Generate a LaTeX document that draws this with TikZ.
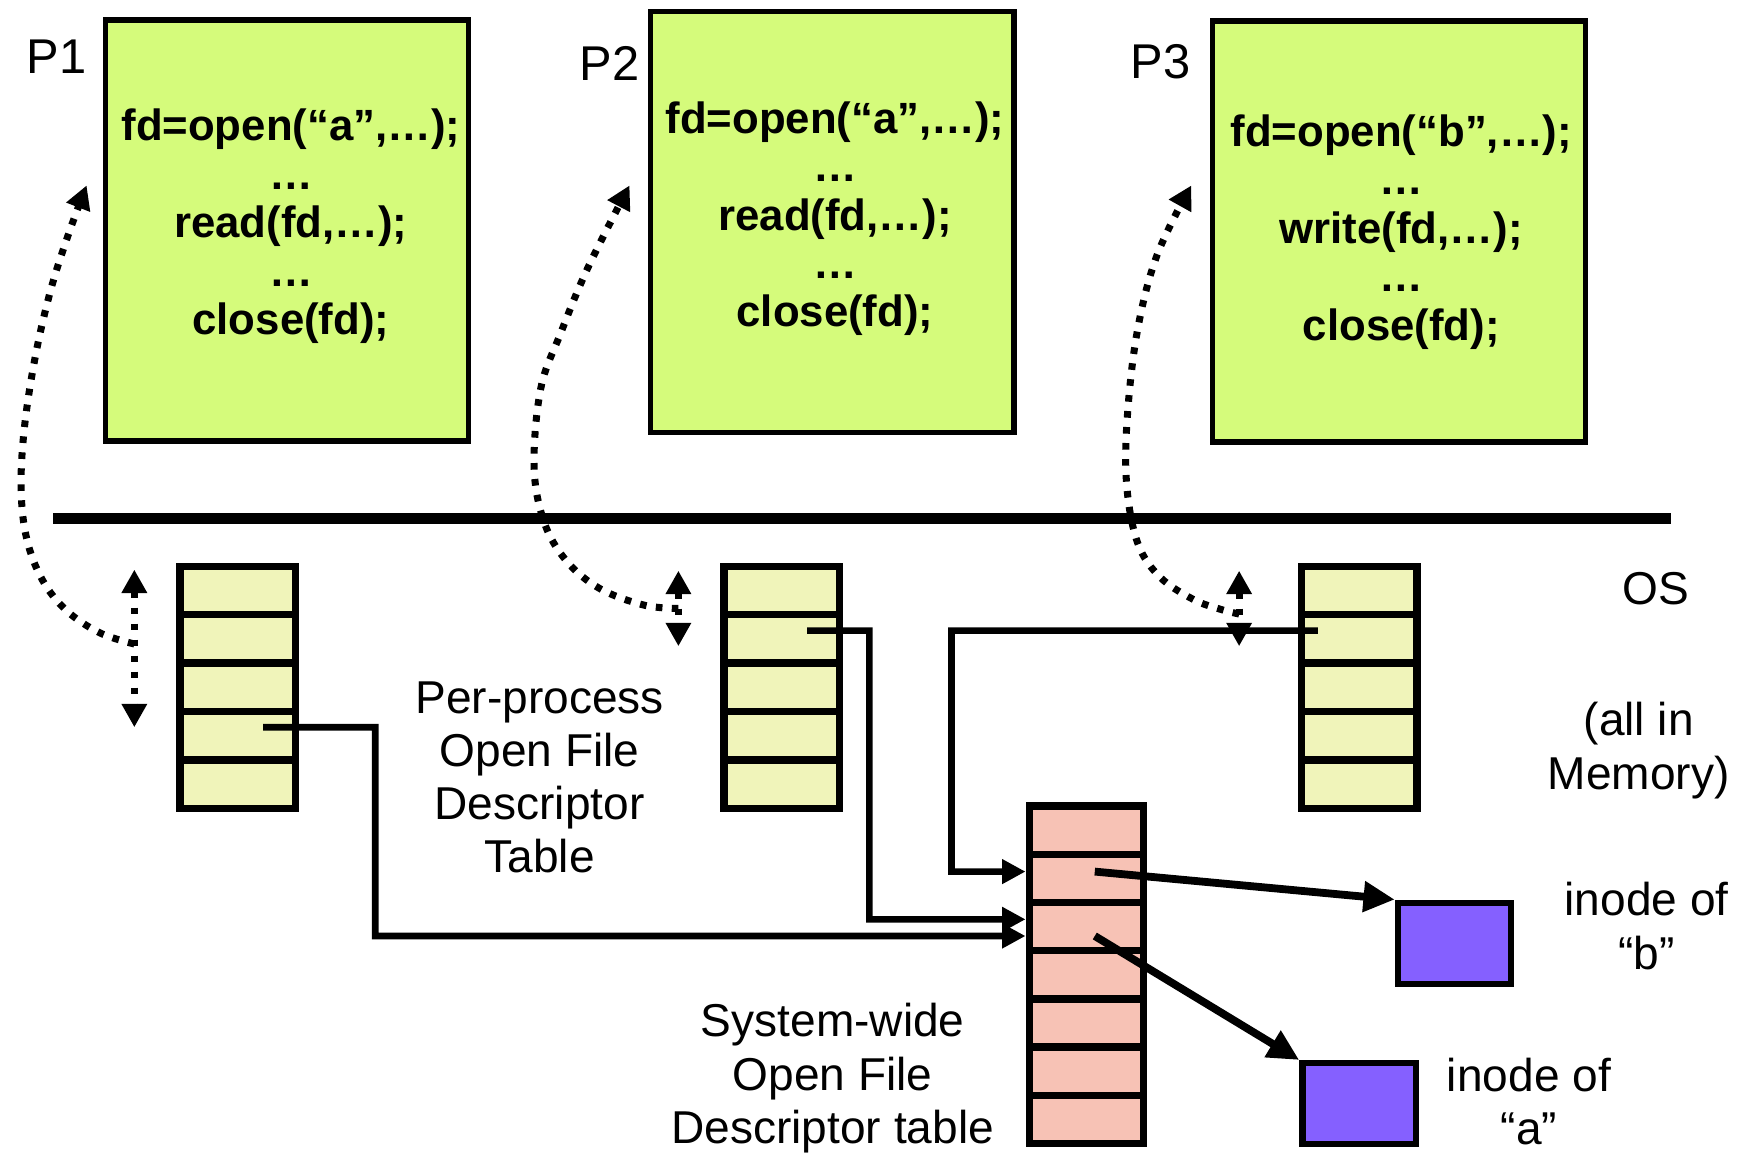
\documentclass[tikz,border=0pt]{standalone}
\usepackage{fontspec}
\setmainfont{Liberation Sans}
\usetikzlibrary{arrows.meta}
\definecolor{codegreen}{HTML}{D5FB7B}
\definecolor{rowyellow}{HTML}{F0F4BA}
\definecolor{rowsalmon}{HTML}{F7C2B5}
\definecolor{inodepurple}{HTML}{8560FF}
\begin{document}
\begin{tikzpicture}[x=0.01cm, y=-0.01cm,
  codebox/.style={draw, line width=1.4pt, fill=codegreen, minimum width=3.27cm, minimum height=3.79cm, inner sep=0},
  code/.style={align=center, font=\fontsize{11.2}{12.4}\selectfont\bfseries, inner sep=0},
  plabel/.style={font=\fontsize{12.5}{14}\selectfont, inner sep=0},
  desc/.style={align=center, font=\fontsize{11.8}{13.6}\selectfont, inner sep=0},
  fdrow/.style={draw, line width=1.9pt, fill=rowyellow, minimum width=1.04cm, minimum height=0.436cm, inner sep=0},
  sysrow/.style={draw, line width=1.9pt, fill=rowsalmon, minimum width=1.03cm, minimum height=0.434cm, inner sep=0},
  inode/.style={draw, line width=1.6pt, fill=inodepurple, minimum width=1.02cm, minimum height=0.73cm, inner sep=0},
  conn/.style={line width=1.7pt, arrows={-Triangle[length=6pt,width=6pt]}},
  ptr/.style={line width=2pt, arrows={-Triangle[length=8pt,width=7.5pt]}},
  dots/.style={line width=1.8pt, dash pattern=on 1.7pt off 2.4pt},
  dtip/.style={arrows={-Triangle[length=6pt,width=6.2pt]}},
  dboth/.style={arrows={Triangle[length=6pt,width=6.2pt]-Triangle[length=6pt,width=6.2pt]}},
]
\useasboundingbox (0,0) rectangle (1568,1043);

% process code boxes
\node[codebox] (p1) at (258.5,207.5) {};
\node[codebox] (p2) at (749.5,200) {};
\node[codebox, minimum width=3.36cm] (p3) at (1260,208.5) {};
\node[code] (p1code) at (262,204) {fd=open(“a”,…);\\…\\read(fd,…);\\…\\close(fd);};
\node[code] (p2code) at (752,197) {fd=open(“a”,…);\\…\\read(fd,…);\\…\\close(fd);};
\node[code] (p3code) at (1262,209) {fd=open(“b”,…);\\…\\write(fd,…);\\…\\close(fd);};
\node[plabel] (p1lab) at (51,51) {P1};
\node[plabel] (p2lab) at (549,57) {P2};
\node[plabel] (p3lab) at (1045,56) {P3};

% user/kernel boundary
\draw[line width=2.6pt] (48,467) -- (1505,467);

% per-process tables
\foreach \t/\x in {t1/214, t2/704, t3/1224} {
  \foreach \k in {1,...,5} {
    \node[fdrow] (\t r\k) at (\x, {510 + 43.6*(\k-0.5)}) {};
  }
}
% system-wide table
\foreach \k in {1,...,7} {
  \node[sysrow] (sys\k) at (978.5, {726 + 43.4*(\k-0.5)}) {};
}
% inodes
\node[inode] (ib) at (1310,849.5) {};
\node[inode] (ia) at (1224,994) {};

% labels
\node[desc] (pplab) at (486,700) {Per-process\\Open File\\Descriptor\\Table};
\node[desc] (oslab) at (1491,530) {OS};
\node[desc] (memlab) at (1476,676) {(all in\\Memory)};
\node[desc] (iblab) at (1483,834) {inode of\\“b”};
\node[desc] (ialab) at (1377,992) {inode of\\“a”};
\node[desc] (syslab) at (750,971) {System-wide\\Open File\\Descriptor table};

% pointers from per-process tables to system-wide table
\coordinate (s1) at ([xshift=0.23cm, yshift=0.076cm]t1r4.center);
\coordinate (e1) at ([yshift=-0.085cm]sys3.west);
\coordinate (s2) at ([xshift=0.23cm, yshift=0.074cm]t2r2.center);
\coordinate (e2) at ([yshift=0.065cm]sys3.west);
\coordinate (s3) at ([xshift=-0.37cm, yshift=0.074cm]t3r2.center);
\coordinate (e3) at ([yshift=0.061cm]sys2.west);
\draw[conn] (s1) -| (338,843) -- (e1);
\draw[conn] (s2) -| (783,828) -- (e2);
\draw[conn] (s3) -| (857,785) -- (e3);

% pointers from system-wide table to inodes
\coordinate (f2) at ([xshift=0.075cm, yshift=0.061cm]sys2.center);
\coordinate (f3) at ([xshift=0.075cm, yshift=-0.085cm]sys3.center);
\draw[ptr] (f2) -- (ib.north west);
\draw[ptr] (f3) -- (ia.north west);

% dotted user/kernel links
\coordinate (v1a) at (121,513); \coordinate (v1b) at (121,655);
\coordinate (v2a) at (611,514); \coordinate (v2b) at (611,582);
\coordinate (v3a) at (1116,514); \coordinate (v3b) at (1116,582);
\draw[dots, dboth] (v1a) -- (v1b);
\draw[dots, dboth] (v2a) -- (v2b);
\draw[dots, dboth] (v3a) -- (v3b);
\coordinate (c1s) at (121,580); \coordinate (c1e) at (78,167);
\coordinate (c2s) at (611,548); \coordinate (c2e) at (567,167);
\coordinate (c3s) at (1116,553); \coordinate (c3e) at (1073,167);
\draw[dots, dtip] plot[smooth, tension=0.6] coordinates {(c1s) (90,570) (60,550) (38,522) (24,485) (19,440) (22,385) (32,320) (46,260) (62,210) (c1e)};
\draw[dots, dtip] plot[smooth, tension=0.6] coordinates {(c2s) (580,545) (540,530) (510,505) (490,470) (481,420) (487,350) (505,300) (530,240) (c2e)};
\draw[dots, dtip] plot[smooth, tension=0.6] coordinates {(c3s) (1100,549) (1075,540) (1045,520) (1025,490) (1015,440) (1015,380) (1024,300) (1042,230) (c3e)};
\end{tikzpicture}
\end{document}
